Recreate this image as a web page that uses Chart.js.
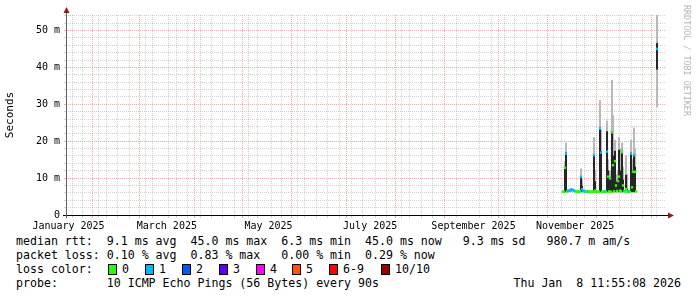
<!DOCTYPE html>
<html lang="en">
<head>
<meta charset="UTF-8">
<title>Smokeping latency</title>
<script src="https://cdn.jsdelivr.net/npm/chart.js@4"></script>
<style>
    body { margin: 0; background: #fff; }
    #wrap { position: relative; width: 697px; height: 297px; font-family: "DejaVu Sans Mono", monospace; color: #000; overflow: hidden; }
    #chartBox { position: absolute; left: 0; top: 0; width: 697px; height: 232px; }
    .row { position: absolute; left: 16px; font-size: 11.6px; line-height: 14px; white-space: pre; }
    .item { position: absolute; font-size: 11.6px; line-height: 14px; white-space: pre; }
    .box { position: absolute; width: 9px; height: 11px; box-sizing: border-box; border: 1px solid #000; }
    #stamp { position: absolute; right: 16px; font-size: 11.6px; line-height: 14px; white-space: pre; }
    #rrd { position: absolute; left: 682px; top: 5px; writing-mode: vertical-rl; font-size: 8.4px; color: #b4b4b4; white-space: pre; }
</style>
</head>
<body>
<div id="wrap">
    <div id="chartBox"><canvas id="ping"></canvas></div>
    <div id="rrd">RRDTOOL / TOBI OETIKER</div>
    <div class="row" id="rowMedian" style="top:234px"></div>
    <div class="row" id="rowLoss" style="top:248px"></div>
    <div class="row" style="top:262px">loss color:</div>
    <div id="lossLegend"></div>
    <div class="row" id="rowProbe" style="top:276px"></div>
    <div id="stamp" style="top:276px"></div>
</div>
<script>
// time window of the graph (360 days ending at the stamp)
const rangeStart = Date.UTC(2025, 0, 13, 11, 55, 8);
const rangeEnd = Date.UTC(2026, 0, 8, 11, 55, 8);

// consolidated samples, one every 14.4 h starting here
const sampleStart = Date.UTC(2025, 10, 7, 16, 43);
const sampleStepHours = 14.4;

// median rtt (ms) per sample, null = no data
const medianRtt = [
    6.3, 6.3, 12.8, 16.6, 6.4, 6.5, 6.6, 6.6, 6.8, 6.9,
    6.7, 6.6, 6.5, 6.4, 6.3, 6.3, 6.3, 6.4, 10.3, 7.0,
    6.5, 6.5, 6.4, 6.3, 6.3, 6.4, 6.3, 6.3, 6.3, 6.3,
    6.3, 16.2, 6.6, 6.3, 6.3, 6.3, 6.3, 23.4, 16.9, 6.3,
    6.3, 6.3, 6.4, 6.3, 17.2, 10.4, 6.4, 9.9, 6.3, 22.4,
    13.5, 6.4, 14.6, 8.0, 6.5, 9.2, 10.4, 6.6, 6.4, 17.0,
    8.0, 6.5, 6.4, 7.0, 6.4, 6.3, 6.4, 6.3, 16.6, 7.5,
    11.7, 16.2, 11.7, 6.4,
    null, null, null, null, null, null, null, null, null, null,
    null, null, null, null, null, null, null, null, null, null,
    45.0
];
// lost pings out of 10 per sample
const lossCount = [
    0, 0, 0, 1, 0, 1, 1, 1, 1, 1,
    1, 1, 1, 0, 0, 0, 0, 0, 1, 1,
    1, 1, 1, 0, 0, 1, 0, 0, 0, 0,
    0, 1, 0, 0, 0, 0, 0, 1, 1, 0,
    0, 0, 1, 0, 1, 0, 0, 0, 0, 0,
    0, 0, 0, 0, 0, 0, 0, 0, 0, 0,
    0, 1, 0, 0, 0, 0, 1, 0, 1, 0,
    0, 1, 0, 0,
    null, null, null, null, null, null, null, null, null, null,
    null, null, null, null, null, null, null, null, null, null,
    1
];
// smoke: fastest ping, dense band low/high, slowest ping (ms)
const smokeMin = [
    null, null, 6.3, 6.3, null, 6.3, null, null, 6.3, null,
    null, null, null, null, null, null, null, null, 6.3, 6.3,
    null, null, null, null, null, null, null, null, null, null,
    null, 6.3, 6.3, null, null, null, null, 6.3, 6.3, null,
    null, null, null, null, 6.3, 6.3, 6.3, 6.3, null, 6.3,
    6.3, 6.3, 6.3, 6.3, 6.3, 6.3, 6.3, 6.3, 6.3, 6.3,
    6.3, null, null, 6.3, 6.3, null, null, null, 6.3, 6.3,
    6.3, 6.3, 6.3, null,
    null, null, null, null, null, null, null, null, null, null,
    null, null, null, null, null, null, null, null, null, null,
    29.3
];
const smokeDarkLo = [
    null, null, 6.3, 6.3, null, null, null, null, null, null,
    null, null, null, null, null, null, null, null, 6.3, 6.3,
    null, null, null, null, null, null, null, null, null, null,
    null, 6.3, 6.3, null, null, null, null, 6.3, 6.3, null,
    null, null, null, null, 6.3, 6.3, 6.3, 6.3, null, 6.3,
    6.3, null, 6.3, 6.3, 6.3, 6.3, 6.3, 6.3, 6.3, 6.3,
    6.3, null, null, 6.3, 6.3, null, null, null, 6.3, 6.3,
    6.3, 6.3, 6.3, null,
    null, null, null, null, null, null, null, null, null, null,
    null, null, null, null, null, null, null, null, null, null,
    39.5
];
const smokeDarkHi = [
    null, null, 13.0, 16.8, null, null, null, null, null, null,
    null, null, null, null, null, null, null, null, 10.4, 7.8,
    null, null, null, null, null, null, null, null, null, null,
    null, 16.3, 9.0, null, null, null, null, 23.6, 17.2, null,
    null, null, null, null, 22.6, 12.0, 7.5, 10.2, null, 22.6,
    16.0, null, 17.3, 9.0, 7.0, 9.5, 17.6, 12.0, 7.5, 17.3,
    9.5, null, null, 10.8, 7.0, null, null, null, 16.8, 10.0,
    12.0, 16.3, 13.0, null,
    null, null, null, null, null, null, null, null, null, null,
    null, null, null, null, null, null, null, null, null, null,
    46.5
];
const smokeMax = [
    null, null, 14.5, 19.5, null, 6.9, null, null, 7.2, null,
    null, null, null, null, null, null, null, null, 12.5, 9.6,
    null, null, null, null, null, null, null, null, null, null,
    null, 21.0, 12.0, null, null, null, null, 31.0, 23.0, null,
    null, null, null, null, 25.5, 15.0, 9.0, 12.0, null, 36.5,
    27.0, 8.0, 20.3, 11.0, 8.5, 12.0, 21.0, 18.0, 9.0, 19.5,
    13.0, null, null, 16.0, 11.0, null, null, null, 20.3, 15.0,
    14.0, 23.6, 18.0, null,
    null, null, null, null, null, null, null, null, null, null,
    null, null, null, null, null, null, null, null, null, null,
    55.0
];

const lossColors = ['#26ff00', '#00b8ff', '#0059ff', '#5e00ff', '#ff00ff', '#ff5500', '#ff0000', '#ff0000', '#ff0000', '#ff0000', '#a10000'];
const lossLegend = [['0', '#26ff00'], ['1', '#00b8ff'], ['2', '#0059ff'], ['3', '#5e00ff'], ['4', '#ff00ff'], ['5', '#ff5500'], ['6-9', '#ff0000'], ['10/10', '#a10000']];
const lossLegendX = [108, 145, 182, 219, 256, 292, 329, 381];

const monthLabels = ['January 2025', 'March 2025', 'May 2025', 'July 2025', 'September 2025', 'November 2025'];
const monthLabelDates = [Date.UTC(2025, 0, 15), Date.UTC(2025, 2, 15), Date.UTC(2025, 4, 15), Date.UTC(2025, 6, 15), Date.UTC(2025, 8, 15), Date.UTC(2025, 10, 15)];

const statsMedian = 'median rtt:  9.1 ms avg  45.0 ms max  6.3 ms min  45.0 ms now   9.3 ms sd   980.7 m am/s';
const statsLoss = 'packet loss: 0.10 % avg  0.83 % max   0.00 % min  0.29 % now';
const probeText = 'probe:       10 ICMP Echo Pings (56 Bytes) every 90s';
const stampText = 'Thu Jan  8 11:55:08 2026';

document.getElementById('rowMedian').textContent = statsMedian;
document.getElementById('rowLoss').textContent = statsLoss;
document.getElementById('rowProbe').textContent = probeText;
document.getElementById('stamp').textContent = stampText;

const legendEl = document.getElementById('lossLegend');
lossLegend.forEach(([label, color], i) => {
    const box = document.createElement('div');
    box.className = 'box';
    box.style.left = lossLegendX[i] + 'px';
    box.style.top = '264px';
    box.style.background = color;
    legendEl.appendChild(box);
    const txt = document.createElement('div');
    txt.className = 'item';
    txt.style.left = (lossLegendX[i] + 14) + 'px';
    txt.style.top = '262px';
    txt.textContent = label;
    legendEl.appendChild(txt);
});

const DAY = 86400000;
const sampleTime = i => sampleStart + i * sampleStepHours * 3600000;

function toBars(lo, hi) {
    const out = [];
    lo.forEach((v, i) => {
        if (v !== null && hi[i] !== null) out.push({ x: sampleTime(i), y: [v, hi[i]] });
    });
    return out;
}

const medianBars = [];
const medianColors = [];
medianRtt.forEach((v, i) => {
    if (v === null) return;
    medianBars.push({ x: sampleTime(i), y: [v - 0.25, v + 0.25] });
    medianColors.push(lossColors[lossCount[i]]);
});

// x grid: weekly (Monday) minor lines, monthly major lines, label anchors
const xTickType = new Map();
for (let t = Date.UTC(2025, 0, 20); t < rangeEnd; t += 7 * DAY) xTickType.set(t, 'week');
for (let m = 1; m <= 12; m++) xTickType.set(Date.UTC(2025, m, 1), 'month');
monthLabelDates.forEach(t => xTickType.set(t, 'label'));

const minorGrid = 'rgba(140,140,140,0.38)';
const majorGrid = 'rgba(225,80,80,0.48)';

Chart.defaults.font.family = "'DejaVu Sans Mono', monospace";
Chart.defaults.color = '#000';

const axisPlugin = {
    id: 'axisArrows',
    afterDraw(chart) {
        const { ctx, chartArea: a } = chart;
        const yb = Math.round(a.bottom) + 0.5;
        const xl = Math.round(a.left) + 0.5;
        ctx.save();
        ctx.lineWidth = 1;
        ctx.strokeStyle = '#000';
        ctx.beginPath();
        ctx.moveTo(a.left - 3, yb);
        ctx.lineTo(a.right + 4, yb);
        ctx.stroke();
        ctx.strokeStyle = '#606060';
        ctx.beginPath();
        ctx.moveTo(xl, a.bottom + 3);
        ctx.lineTo(xl, a.top - 4);
        ctx.stroke();
        ctx.fillStyle = '#8b1c1c';
        ctx.beginPath();
        ctx.moveTo(xl - 3, a.top - 2);
        ctx.lineTo(xl + 3, a.top - 2);
        ctx.lineTo(xl, a.top - 8);
        ctx.closePath();
        ctx.fill();
        ctx.beginPath();
        ctx.moveTo(a.right + 2, yb - 3);
        ctx.lineTo(a.right + 2, yb + 3);
        ctx.lineTo(a.right + 8, yb);
        ctx.closePath();
        ctx.fill();
        ctx.restore();
    }
};

new Chart(document.getElementById('ping'), {
    type: 'bar',
    data: {
        datasets: [
            {
                label: 'smoke',
                data: toBars(smokeMin, smokeMax),
                backgroundColor: '#b8b8b8',
                barThickness: 1.4,
                grouped: false,
                order: 3
            },
            {
                label: 'dense',
                data: toBars(smokeDarkLo, smokeDarkHi),
                backgroundColor: '#262626',
                barThickness: 1.4,
                grouped: false,
                order: 2
            },
            {
                label: 'median',
                data: medianBars,
                backgroundColor: medianColors,
                barThickness: 1.6,
                grouped: false,
                order: 1
            }
        ]
    },
    options: {
        responsive: true,
        maintainAspectRatio: false,
        animation: false,
        events: [],
        layout: { padding: { left: 0, right: 31, top: 15, bottom: 0 } },
        plugins: { legend: { display: false }, tooltip: { enabled: false } },
        scales: {
            x: {
                type: 'linear',
                min: rangeStart,
                max: rangeEnd,
                offset: false,
                afterBuildTicks: scale => {
                    scale.ticks = [...xTickType.keys()].sort((p, q) => p - q).map(v => ({ value: v }));
                },
                afterFit: scale => { scale.height = 17; },
                ticks: {
                    autoSkip: false,
                    maxRotation: 0,
                    minRotation: 0,
                    padding: 2,
                    font: { size: 10 },
                    color: '#000',
                    callback: v => {
                        const k = monthLabelDates.indexOf(v);
                        return k >= 0 ? monthLabels[k] : '';
                    }
                },
                grid: {
                    color: c => {
                        const type = c.tick ? xTickType.get(c.tick.value) : null;
                        if (type === 'month') return majorGrid;
                        if (type === 'week') return minorGrid;
                        return 'rgba(0,0,0,0)';
                    },
                    tickLength: 3
                },
                border: { display: false, dash: [1, 1] }
            },
            y: {
                min: 0,
                max: 54.2,
                afterFit: scale => { scale.width = 66; },
                ticks: {
                    stepSize: 2,
                    includeBounds: false,
                    autoSkip: false,
                    padding: 4,
                    font: { size: 10 },
                    color: '#000',
                    callback: v => (v % 10 === 0 ? (v === 0 ? '0' : v + ' m') : '')
                },
                grid: {
                    color: c => (c.tick && c.tick.value % 10 === 0 && c.tick.value > 0 ? majorGrid : minorGrid),
                    tickLength: 2
                },
                border: { display: false, dash: [1, 1] },
                title: { display: true, text: 'Seconds', font: { size: 11 }, color: '#000' }
            }
        }
    },
    plugins: [axisPlugin]
});
</script>
</body>
</html>
